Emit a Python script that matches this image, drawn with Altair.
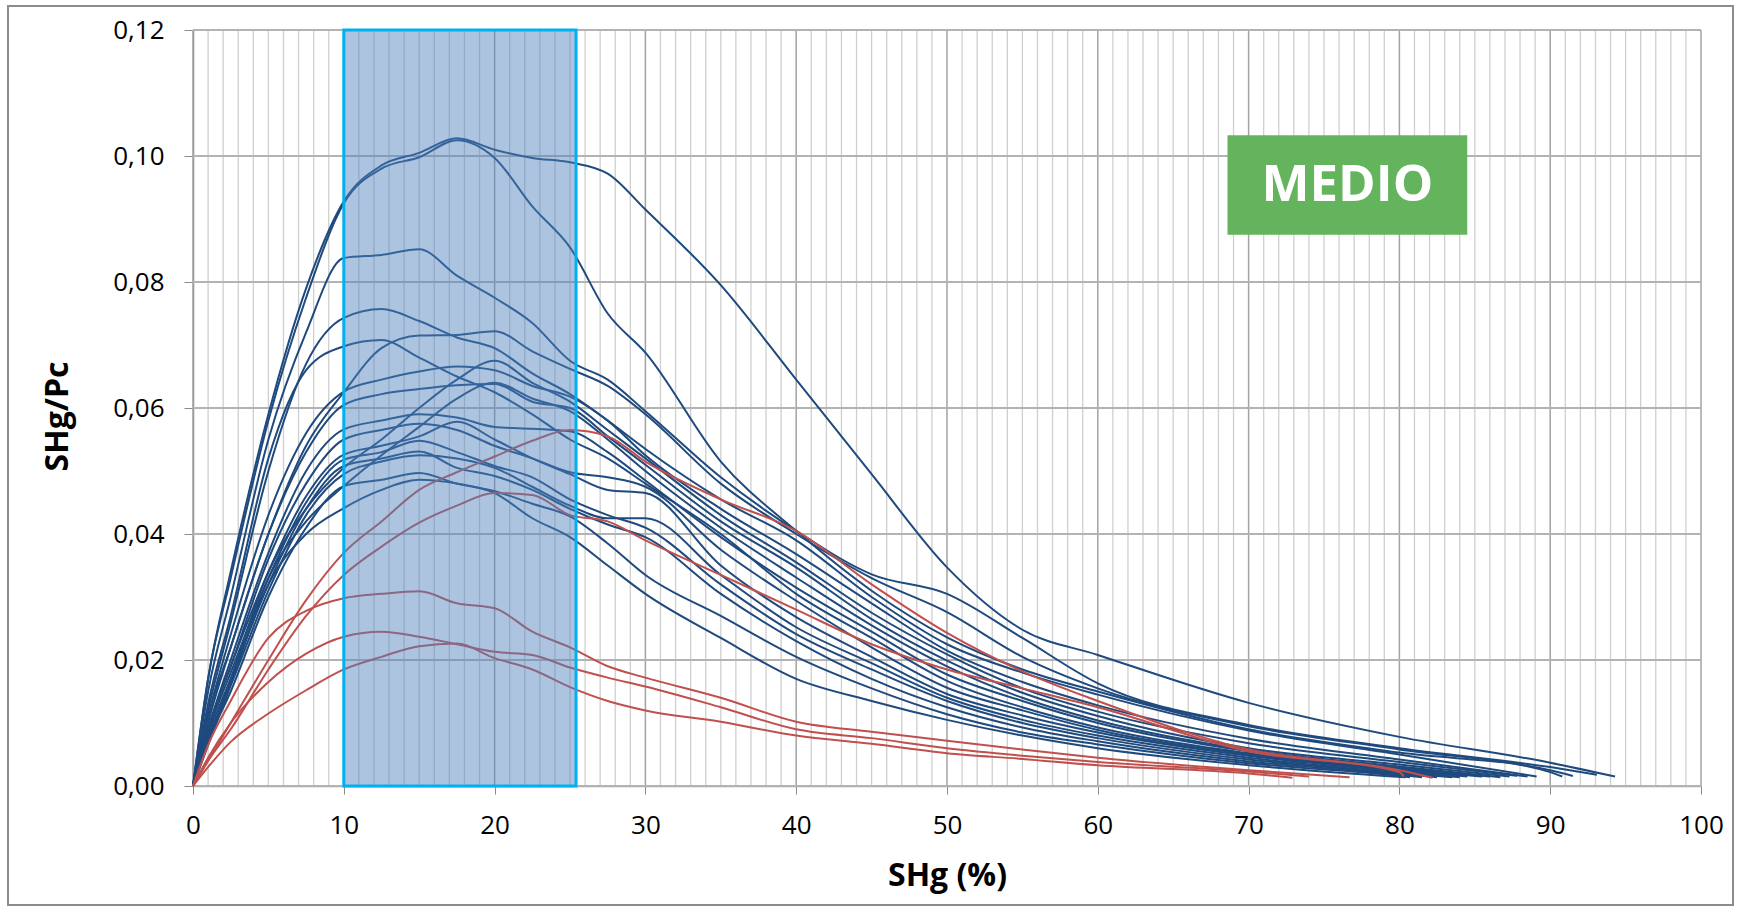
import altair as alt
import pandas as pd

# ---- x positions (SHg %) at which each curve is sampled ----
SHG_GRID = [0, 1, 2.5, 5, 7.5, 10, 12.5, 15, 17.5, 20, 22.5, 25, 27.5, 30,
            35, 40, 45, 50, 55, 60, 70, 80, 90]

# ---- SHg/Pc curves (blue family); each list follows SHG_GRID, the *_END pair closes the curve ----
B01 = [0, 0.017, 0.034, 0.059, 0.079, 0.0928, 0.0985, 0.1005, 0.1028, 0.1010, 0.0997, 0.0990, 0.0972,
       0.0915, 0.0795, 0.0645, 0.0495, 0.0347, 0.0248, 0.0208, 0.0132, 0.0078, 0.0037]
B01_END = (94.3, 0.0015)
B02 = [0, 0.017, 0.033, 0.058, 0.0775, 0.0925, 0.0980, 0.0998, 0.1025, 0.0997, 0.0920, 0.0855, 0.0750,
       0.0688, 0.0515, 0.0405, 0.0310, 0.0236, 0.0185, 0.0150, 0.0090, 0.0053, 0.0025]
B02_END = (91.5, 0.0016)
B03 = [0, 0.015, 0.030, 0.055, 0.072, 0.0838, 0.0843, 0.0852, 0.0810, 0.0775, 0.0735, 0.0675, 0.0645,
       0.0595, 0.0490, 0.0405, 0.0336, 0.0305, 0.0235, 0.0163, 0.0097, 0.0060, 0.0030]
B03_END = (93.1, 0.0018)
B04 = [0, 0.012, 0.026, 0.050, 0.067, 0.0743, 0.0757, 0.0738, 0.0712, 0.0695, 0.0655, 0.0622, 0.0580,
       0.0535, 0.0455, 0.0390, 0.0300, 0.0225, 0.0180, 0.0145, 0.0088, 0.0050]
B04_END = (89.1, 0.0015)
B05 = [0, 0.013, 0.027, 0.052, 0.066, 0.0698, 0.0708, 0.0680, 0.0650, 0.0625, 0.0590, 0.0550, 0.0520,
       0.0480, 0.0400, 0.0305, 0.0235, 0.0167, 0.0125, 0.0093, 0.0052, 0.0027]
B05_END = (85.5, 0.0015)
B06 = [0, 0.011, 0.022, 0.040, 0.054, 0.0625, 0.0695, 0.0715, 0.0716, 0.0722, 0.0690, 0.0662, 0.0635,
       0.0590, 0.0480, 0.0400, 0.0330, 0.0276, 0.0205, 0.0155, 0.0095, 0.0058, 0.0022]
B06_END = (90.8, 0.0015)
B07 = [0, 0.007, 0.017, 0.034, 0.044, 0.0505, 0.0550, 0.0600, 0.0645, 0.0675, 0.0640, 0.0610, 0.0565,
       0.0520, 0.0430, 0.0355, 0.0275, 0.0209, 0.0155, 0.0118, 0.0068, 0.0038]
B07_END = (87.8, 0.0016)
B08 = [0, 0.011, 0.024, 0.043, 0.056, 0.0626, 0.0645, 0.0658, 0.0666, 0.0660, 0.0635, 0.0618, 0.0580,
       0.0525, 0.0440, 0.0368, 0.0290, 0.0215, 0.0165, 0.0128, 0.0075, 0.0042]
B08_END = (88.5, 0.0015)
B09 = [0, 0.010, 0.022, 0.040, 0.053, 0.0605, 0.0622, 0.0630, 0.0636, 0.0638, 0.0610, 0.0600, 0.0555,
       0.0510, 0.0420, 0.0347, 0.0265, 0.0199, 0.0148, 0.0111, 0.0060, 0.0034]
B09_END = (87.3, 0.0015)
B10 = [0, 0.0065, 0.016, 0.033, 0.042, 0.0476, 0.0525, 0.0570, 0.0615, 0.0640, 0.0615, 0.0595, 0.0550,
       0.0500, 0.0410, 0.0331, 0.0255, 0.0190, 0.0140, 0.0104, 0.0057, 0.0031]
B10_END = (86.7, 0.0014)
B11 = [0, 0.009, 0.020, 0.037, 0.050, 0.0566, 0.0580, 0.0590, 0.0585, 0.0570, 0.0567, 0.0563, 0.0530,
       0.0485, 0.0395, 0.0315, 0.0245, 0.0177, 0.0135, 0.0100, 0.0055, 0.0029]
B11_END = (86.0, 0.0015)
B12 = [0, 0.009, 0.019, 0.034, 0.046, 0.0526, 0.0540, 0.0555, 0.0578, 0.0550, 0.0520, 0.0495, 0.0470,
       0.0465, 0.0350, 0.0268, 0.0205, 0.0146, 0.0112, 0.0085, 0.0048, 0.0023]
B12_END = (84.0, 0.0014)
B13 = [0, 0.0085, 0.018, 0.033, 0.045, 0.0518, 0.0530, 0.0548, 0.0530, 0.0508, 0.0490, 0.0455, 0.0430,
       0.0410, 0.0320, 0.0241, 0.0185, 0.0135, 0.0100, 0.0076, 0.0042, 0.0020]
B13_END = (82.5, 0.0014)
B14 = [0, 0.008, 0.017, 0.032, 0.044, 0.0508, 0.0520, 0.0531, 0.0505, 0.0492, 0.0470, 0.0440, 0.0415,
       0.0395, 0.0305, 0.0230, 0.0170, 0.0125, 0.0093, 0.0071, 0.0039, 0.0018]
B14_END = (81.5, 0.0014)
B15 = [0, 0.007, 0.015, 0.030, 0.041, 0.0476, 0.0486, 0.0497, 0.0480, 0.0468, 0.0448, 0.0428, 0.0385,
       0.0335, 0.0270, 0.0205, 0.0155, 0.0114, 0.0085, 0.0066, 0.0036, 0.0016]
B15_END = (80.7, 0.0014)
B16 = [0, 0.007, 0.0165, 0.032, 0.040, 0.0441, 0.0470, 0.0486, 0.0480, 0.0465, 0.0425, 0.0395, 0.0350,
       0.0305, 0.0235, 0.0170, 0.0135, 0.0105, 0.0080, 0.0060, 0.0033]
B16_END = (80.4, 0.0014)
B17 = [0, 0.009, 0.019, 0.036, 0.048, 0.0550, 0.0565, 0.0575, 0.0565, 0.0540, 0.0520, 0.0498, 0.0490,
       0.0475, 0.0375, 0.0294, 0.0220, 0.0156, 0.0120, 0.0089, 0.0050, 0.0025]
B17_END = (84.5, 0.0015)
B18 = [0, 0.0075, 0.016, 0.031, 0.043, 0.0495, 0.0515, 0.0525, 0.0520, 0.0505, 0.0475, 0.0445, 0.0425,
       0.0425, 0.0335, 0.0252, 0.0195, 0.0140, 0.0105, 0.0080, 0.0045, 0.0021]
B18_END = (83.5, 0.0014)

# ---- red family ----
R01 = [0, 0.004, 0.010, 0.020, 0.0295, 0.0370, 0.0420, 0.0470, 0.0498, 0.0523, 0.0548, 0.0565, 0.0555,
       0.0515, 0.0455, 0.0405, 0.0320, 0.0243, 0.0182, 0.0135, 0.0058, 0.0025]
R01_END = (82.2, 0.0013)
R02 = [0, 0.004, 0.009, 0.0185, 0.027, 0.0335, 0.0380, 0.0418, 0.0445, 0.0465, 0.0462, 0.0430, 0.0420,
       0.0390, 0.0335, 0.0280, 0.0225, 0.0185, 0.0155, 0.0125, 0.0055, 0.0022]
R02_END = (80.3, 0.0015)
R03 = [0, 0.0065, 0.0135, 0.0235, 0.0278, 0.0298, 0.0305, 0.0309, 0.0290, 0.0282, 0.0245, 0.0220, 0.0190,
       0.0172, 0.0140, 0.0102, 0.0086, 0.0072, 0.0058, 0.0045, 0.0025]
R03_END = (76.7, 0.0014)
R04 = [0, 0.0045, 0.010, 0.0165, 0.021, 0.0237, 0.0245, 0.0237, 0.0225, 0.0213, 0.0208, 0.0188, 0.0172,
       0.0158, 0.0125, 0.0090, 0.0076, 0.0060, 0.0048, 0.0038, 0.0023]
R04_END = (74.0, 0.0015)
R05 = [0, 0.003, 0.007, 0.0115, 0.0152, 0.0185, 0.0205, 0.0222, 0.0226, 0.0203, 0.0185, 0.0157, 0.0135,
       0.0120, 0.0102, 0.0080, 0.0067, 0.0052, 0.0043, 0.0033, 0.0020]
R05_END = (72.9, 0.0013)

BLUE_SERIES = [("B01", B01, B01_END), ("B02", B02, B02_END), ("B03", B03, B03_END),
               ("B04", B04, B04_END), ("B05", B05, B05_END), ("B06", B06, B06_END),
               ("B07", B07, B07_END), ("B08", B08, B08_END), ("B09", B09, B09_END),
               ("B10", B10, B10_END), ("B11", B11, B11_END), ("B12", B12, B12_END),
               ("B13", B13, B13_END), ("B14", B14, B14_END), ("B15", B15, B15_END),
               ("B16", B16, B16_END), ("B17", B17, B17_END), ("B18", B18, B18_END)]
RED_SERIES = [("R01", R01, R01_END), ("R02", R02, R02_END), ("R03", R03, R03_END),
              ("R04", R04, R04_END), ("R05", R05, R05_END)]

# highlighted SHg interval and the label box (data units)
BAND_X = [10, 25.4]
BAND_Y = [0, 0.12]
LABEL_TEXT = "MEDIO"
LABEL_BOX_X = [68.6, 84.5]
LABEL_BOX_Y = [0.0875, 0.1033]

# axis ticks and grid
X_TICKS = list(range(0, 101, 10))
X_MINOR = [v for v in range(0, 101) if v % 10 != 0]
Y_TICKS = [0, 0.02, 0.04, 0.06, 0.08, 0.10, 0.12]

BLUE = "#1F4A7E"
RED = "#C0504D"
FONT = "Open Sans"


def curve_frame(series):
    rows = []
    for name, ys, end in series:
        for i, (x, y) in enumerate(zip(SHG_GRID, ys)):
            rows.append({"curve": name, "seq": i, "shg": x, "ratio": y})
        rows.append({"curve": name, "seq": len(ys), "shg": end[0], "ratio": end[1]})
    return pd.DataFrame(rows)


blue_df = curve_frame(BLUE_SERIES)
red_df = curve_frame(RED_SERIES)

x_scale = alt.Scale(domain=[0, 100], nice=False, zero=False)
y_scale = alt.Scale(domain=[0, 0.12], nice=False, zero=False)

x_axis = alt.Axis(values=X_TICKS, grid=False, tickSize=8, tickColor="#8a8a8a",
                  domainColor="#a0a0a0", domainWidth=1.5, labelFont=FONT, labelFontSize=26,
                  labelColor="#000000", labelPadding=18, labelFlush=False, labelOverlap=False,
                  title="SHg (%)", titleFont=FONT, titleFontSize=32, titleFontWeight="bold",
                  titleColor="#000000", titleBaseline="alphabetic", titleY=99)
y_axis = alt.Axis(values=Y_TICKS, grid=False, tickSize=9, tickColor="#8a8a8a",
                  domainColor="#868686", domainWidth=1.5, labelFont=FONT, labelFontSize=26,
                  labelColor="#000000", labelPadding=20, labelFlush=False, labelOverlap=False,
                  labelExpr="replace(format(datum.value, '.2f'), '.', ',')",
                  title="SHg/Pc", titleFont=FONT, titleFontSize=32, titleFontWeight="bold",
                  titleColor="#000000", titleBaseline="alphabetic", titleX=-126, titleY=386)

X_ENC = dict(scale=x_scale, axis=x_axis)
Y_ENC = dict(scale=y_scale, axis=y_axis)

# grid
minor_grid = alt.Chart(pd.DataFrame({"shg": X_MINOR})).mark_rule(
    color="#cfcfcf", strokeWidth=1.3).encode(x=alt.X("shg:Q", title="SHg (%)", **X_ENC))
major_grid = alt.Chart(pd.DataFrame({"shg": X_TICKS})).mark_rule(
    color="#a3a3a3", strokeWidth=1.5).encode(x=alt.X("shg:Q", title="SHg (%)", **X_ENC))
h_grid = alt.Chart(pd.DataFrame({"ratio": Y_TICKS})).mark_rule(
    color="#b3b3b3", strokeWidth=1.8).encode(y=alt.Y("ratio:Q", title="SHg/Pc", **Y_ENC))

# curves
blue_lines = alt.Chart(blue_df).mark_line(
    interpolate="monotone", strokeWidth=2, color=BLUE).encode(
    x=alt.X("shg:Q", title="SHg (%)", **X_ENC),
    y=alt.Y("ratio:Q", title="SHg/Pc", **Y_ENC),
    detail="curve:N", order="seq:Q")
red_lines = alt.Chart(red_df).mark_line(
    interpolate="monotone", strokeWidth=2, color=RED).encode(
    x=alt.X("shg:Q", title="SHg (%)", **X_ENC),
    y=alt.Y("ratio:Q", title="SHg/Pc", **Y_ENC),
    detail="curve:N", order="seq:Q")

# translucent highlight band over the curves
band = alt.Chart(pd.DataFrame({"x0": [BAND_X[0]], "x1": [BAND_X[1]],
                               "y0": [BAND_Y[0]], "y1": [BAND_Y[1]]})).mark_rect(
    fill="#4F81BD", fillOpacity=0.47, stroke="#00B0F0", strokeWidth=3).encode(
    x=alt.X("x0:Q", title="SHg (%)", **X_ENC), x2="x1:Q",
    y=alt.Y("y0:Q", title="SHg/Pc", **Y_ENC), y2="y1:Q")

# label box
label_df = pd.DataFrame({"x0": [LABEL_BOX_X[0]], "x1": [LABEL_BOX_X[1]],
                         "y0": [LABEL_BOX_Y[0]], "y1": [LABEL_BOX_Y[1]],
                         "xm": [sum(LABEL_BOX_X) / 2], "ym": [sum(LABEL_BOX_Y) / 2],
                         "text": [LABEL_TEXT]})
label_box = alt.Chart(label_df).mark_rect(fill="#64B45E").encode(
    x=alt.X("x0:Q", title="SHg (%)", **X_ENC), x2="x1:Q",
    y=alt.Y("y0:Q", title="SHg/Pc", **Y_ENC), y2="y1:Q")
label_text = alt.Chart(label_df).mark_text(
    font=FONT, fontSize=51, fontWeight="bold", color="#ffffff",
    align="center", baseline="middle", dy=1).encode(
    x=alt.X("xm:Q", title="SHg (%)", **X_ENC), y=alt.Y("ym:Q", title="SHg/Pc", **Y_ENC),
    text="text:N")

# outer chart border
frame = alt.Chart(pd.DataFrame({"k": [0]})).mark_rect(
    fill="transparent", stroke="#8c8c8c", strokeWidth=2).encode(
    x=alt.value(-185), x2=alt.value(1540), y=alt.value(-24), y2=alt.value(875))

chart = alt.layer(
    minor_grid, major_grid, h_grid, blue_lines, red_lines, band, label_box, label_text, frame
).properties(
    width=1508, height=756,
    autosize=alt.AutoSizeParams(type="none"),
    padding={"left": 193, "top": 30, "right": 40, "bottom": 122},
    background="#ffffff",
).configure_view(stroke=None)

chart.save("out.html", embed_options={"renderer": "svg", "actions": False})
